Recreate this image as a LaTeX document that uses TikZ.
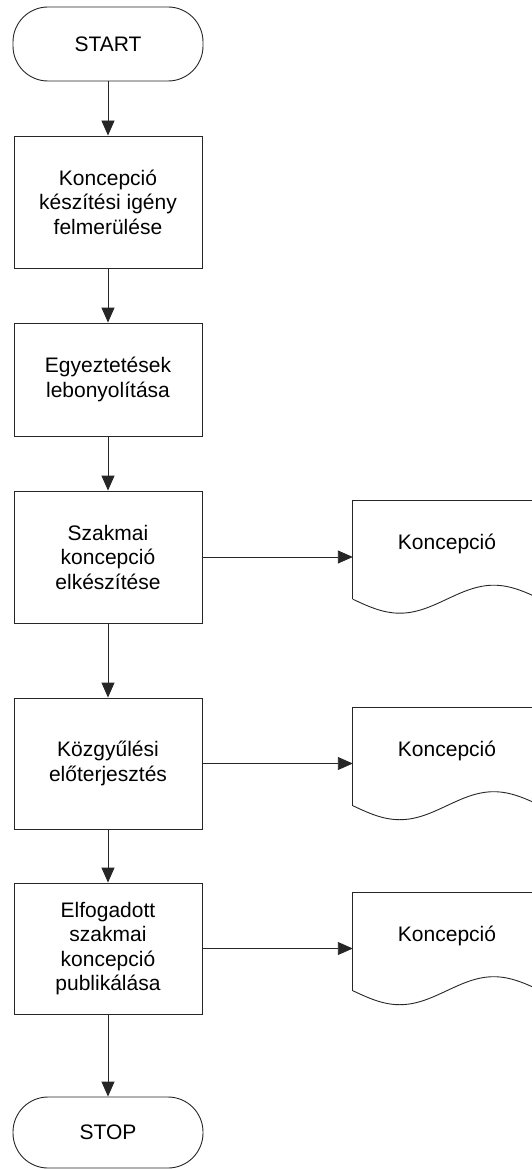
\documentclass[tikz,border=0pt]{standalone}
\usepackage{fontspec}
\setmainfont{Liberation Sans}
\usetikzlibrary{arrows.meta}
\begin{document}
\begin{tikzpicture}[x=1pt,y=-1pt,
  every node/.style={font=\fontsize{21}{24.5}\selectfont, align=center, text=black},
  line/.style={draw=black!85, line width=0.9pt},
  process/.style={line, rectangle, minimum width=188pt, inner sep=0pt},
  terminal/.style={line, rectangle, rounded corners=35pt, minimum width=190pt, inner sep=0pt},
  docarea/.style={rectangle, minimum width=188pt, minimum height=112pt, inner sep=0pt},
  doctext/.style={anchor=base, inner sep=0pt},
  flow/.style={line, -{Triangle[length=15pt,width=13pt]}}
]
\useasboundingbox (0,0) rectangle (532,1169);

% main column
\node[terminal, minimum height=74pt] (start) at (108,44) {START};
\node[process, minimum height=132pt] (b1) at (108,202) {Koncepció\\készítési igény\\felmerülése};
\node[process, minimum height=113pt] (b2) at (108,379.5) {Egyeztetések\\lebonyolítása};
\node[process, minimum height=132pt] (b3) at (108,557) {Szakmai\\koncepció\\elkészítése};
\node[process, minimum height=131pt] (b4) at (108,763.5) {Közgyűlési\\előterjesztés};
\node[process, minimum height=131pt] (b5) at (108,948.5) {Elfogadott\\szakmai\\koncepció\\publikálása};
\node[terminal, minimum height=71pt] (stop) at (108,1132.5) {STOP};

\draw[flow] (start) -- (b1);
\draw[flow] (b1) -- (b2);
\draw[flow] (b2) -- (b3);
\draw[flow] (b3) -- (b4);
\draw[flow] (b4) -- (b5);
\draw[flow] (b5) -- (stop);

% document outputs
\foreach \n/\y in {d1/557, d2/763.5, d3/948.5}{
  \node[docarea] (\n) at (447,\y) {};
  \node[doctext] (\n t) at (447,\y-7.5) {Koncepció};
  \draw[line] ([yshift=14pt]\n.south west) -- (\n.north west) -- (\n.north east) -- ([yshift=14pt]\n.south east);
  \draw[line] ([yshift=14pt]\n.south west) sin ++(47,14) cos ++(47,-14) sin ++(47,-14) cos ++(47,14);
}

\draw[flow] (b3.east) -- (d1.west);
\draw[flow] (b4.east) -- (d2.west);
\draw[flow] (b5.east) -- (d3.west);
\end{tikzpicture}
\end{document}
